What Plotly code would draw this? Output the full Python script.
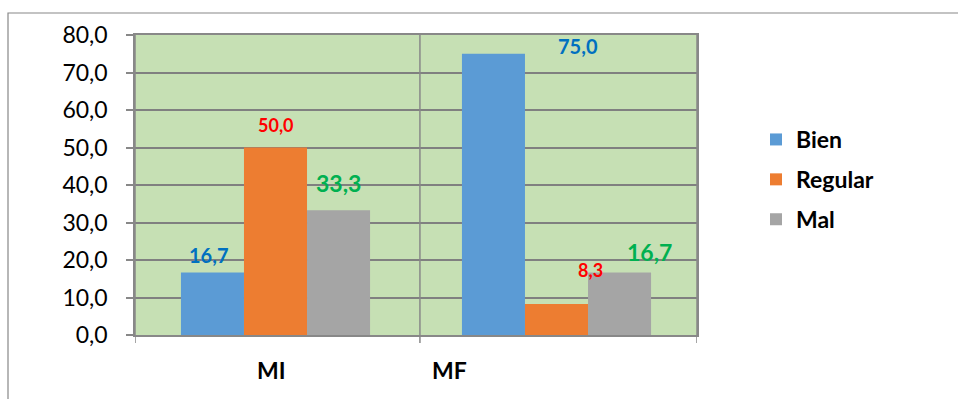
import plotly.graph_objects as go

categories = ["MI", "MF"]
series_names = ["Bien", "Regular", "Mal"]
bien = [16.7, 75.0]
regular = [50.0, 8.3]
mal = [33.3, 16.7]
y_ticks = [0, 10, 20, 30, 40, 50, 60, 70, 80]

bar_colors = ["#5B9BD5", "#ED7D31", "#A5A5A5"]
label_colors = ["#0070C0", "#FF0000", "#00B050"]
label_sizes = [[20, 20], [18, 18], [23, 23]]
# per-label pixel shifts (x, y above bar top)
label_shift = [[(-4, 17), (85, 8)], [(0, 23), (34, 34)], [(0, 27), (30, 20)]]

FONT = "Lato"
bargap = 0.327
fig = go.Figure()
all_vals = [bien, regular, mal]
for j, (name, vals) in enumerate(zip(series_names, all_vals)):
    fig.add_trace(go.Bar(
        x=list(range(len(categories))), y=vals, name="<b>" + name + "</b>",
        marker=dict(color=bar_colors[j], line=dict(width=0)),
        legendgroup=name,
    ))

barw = (1 - bargap) / 3
annotations = []
for j, vals in enumerate(all_vals):
    for i, v in enumerate(vals):
        xs, ys = label_shift[j][i]
        annotations.append(dict(
            x=i + (j - 1) * barw, y=v, xref="x", yref="y",
            text="<b>" + f"{v:.1f}".replace(".", ",") + "</b>",
            showarrow=False, xshift=xs, yshift=ys, yanchor="middle",
            font=dict(family=FONT, size=label_sizes[j][i], color=label_colors[j]),
        ))

# category labels
cat_pos = [(271 - 135) / 562, (449 - 135) / 562]
for c, px in zip(categories, cat_pos):
    annotations.append(dict(
        x=px, y=(335 - 370) / 300, xref="paper", yref="paper",
        text="<b>" + c + "</b>", showarrow=False, xanchor="center", yanchor="middle",
        font=dict(family=FONT, size=23, color="black"),
    ))

shapes = []
# category boundary gridlines and ticks
for b in [-0.5, 0.514, 1.5]:
    shapes.append(dict(type="line", xref="x", yref="paper", x0=b, x1=b,
                       y0=-8 / 300, y1=1, line=dict(color="#888888", width=1.5)))
# outer chart border
xl = (8 - 135) / 562
yt = (335 - 13) / 300
shapes.append(dict(type="path", xref="paper", yref="paper",
                   path=f"M {xl},-0.3 L {xl},{yt} L 1.5,{yt}",
                   line=dict(color="#888888", width=1.2)))

fig.update_layout(
    width=958, height=399,
    margin=dict(l=135, r=261, t=35, b=64),
    paper_bgcolor="white", plot_bgcolor="#C6E0B4",
    barmode="group", bargap=bargap, bargroupgap=0,
    separators=",.",
    font=dict(family=FONT, color="black"),
    xaxis=dict(range=[-0.5, 1.5], showticklabels=False, showgrid=False,
               zeroline=False, showline=True, mirror=True,
               linecolor="#888888", linewidth=1.5, fixedrange=True),
    yaxis=dict(range=[0, 80], tickvals=y_ticks, tickformat=".1f",
               showgrid=True, gridcolor="#808080", gridwidth=1.5,
               zeroline=False, showline=True, mirror=True,
               linecolor="#888888", linewidth=1.5,
               ticks="outside", ticklen=7, tickcolor="#888888", tickwidth=1.5,
               ticklabelstandoff=14,
               tickfont=dict(family=FONT, size=23, color="black")),
    legend=dict(x=(756 - 135) / 562, y=(335 - 118) / 300, xanchor="left", yanchor="top",
                font=dict(family=FONT, size=23, color="black"),
                tracegroupgap=7, bgcolor="rgba(0,0,0,0)"),
    annotations=annotations, shapes=shapes,
    showlegend=True,
)

fig.write_html("out.html")
